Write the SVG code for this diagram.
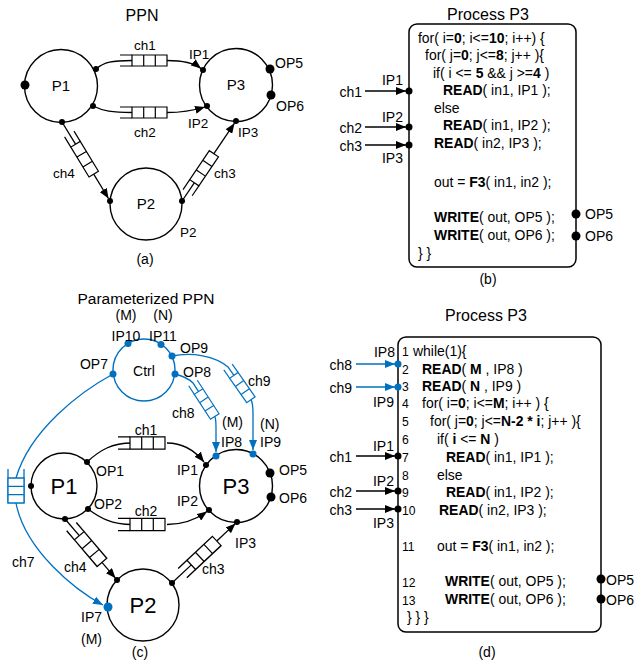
<svg xmlns="http://www.w3.org/2000/svg" width="644" height="666" viewBox="0 0 644 666">
<style>
text{font-family:"Liberation Sans",Arial,Helvetica,sans-serif;fill:#000}
.ttl{font-size:16px}
.lb{font-size:13.5px}
.lc{font-size:14px}
.code{font-size:15.5px}
.num{font-size:13.5px}
.big{font-size:22px}
.mid{text-anchor:middle}
.end{text-anchor:end}
.b{font-weight:bold}
.nd{fill:#fff;stroke:#000;stroke-width:1.4}
.ndb{fill:#fff;stroke:#0070c0;stroke-width:1.4}
.k{fill:none;stroke:#000;stroke-width:1.3}
.kb{fill:none;stroke:#0070c0;stroke-width:1.3}
.dot{fill:#000}
.dotb{fill:#0070c0}
.box{fill:#fff;stroke:#000;stroke-width:1.5}
</style>
<defs>
<marker id="ak" viewBox="0 0 10 8" refX="10" refY="4" markerWidth="10" markerHeight="8" markerUnits="userSpaceOnUse" orient="auto"><path d="M0,0L10,4L0,8z" fill="#000"/></marker>
<marker id="ab" viewBox="0 0 10 8" refX="10" refY="4" markerWidth="10" markerHeight="8" markerUnits="userSpaceOnUse" orient="auto"><path d="M0,0L10,4L0,8z" fill="#0070c0"/></marker>
<g id="bk"><path d="M0,-5.5H12M0,5.5H12" fill="none" stroke="#000" stroke-width="1.2"/><path d="M12,-5.5H47V5.5H12ZM23.7,-5.5V5.5M35.3,-5.5V5.5" fill="#fff" stroke="#000" stroke-width="1.2"/></g>
<g id="bb"><path d="M0,-6H12M0,6H12" fill="none" stroke="#0070c0" stroke-width="1.4"/><path d="M12,-6H47V6H12ZM23.7,-6V6M35.3,-6V6" fill="#fff" stroke="#0070c0" stroke-width="1.4"/></g>
</defs>

<!-- ============ (a) PPN ============ -->
<text class="ttl mid" x="142" y="21">PPN</text>
<g id="a-connectors">
  <path class="k" d="M96,69 C104,62 112,60.5 132,60.5"/>
  <path class="k" d="M167,60.5 C184,60.5 194,63 201,68.5" marker-end="url(#ak)"/>
  <use href="#bk" transform="translate(120,60.5)"/>
  <text class="lb mid" x="145" y="50">ch1</text>
  <path class="k" d="M93,106 C103,111 112,112.5 132,112.5"/>
  <path class="k" d="M167,112.5 C184,112.5 195,110 205,107" marker-end="url(#ak)"/>
  <use href="#bk" transform="translate(120,112.5)"/>
  <text class="lb mid" x="145" y="137">ch2</text>
  <path class="k" d="M62,122 L75.5,144.2"/>
  <path class="k" d="M93.7,174.2 L108.5,198.5" marker-end="url(#ak)"/>
  <use href="#bk" transform="translate(69.3,134) rotate(58.7)"/>
  <text class="lb" x="53" y="178">ch4</text>
  <path class="k" d="M182,201 L194.3,182.8"/>
  <path class="k" d="M213.9,153.7 L234.5,123.2" marker-end="url(#ak)"/>
  <use href="#bk" transform="translate(187.6,192.7) rotate(-56)"/>
  <text class="lb" x="214" y="178">ch3</text>
</g>
<g id="a-P1">
  <circle class="nd" cx="61" cy="86" r="36.5"/>
  <text class="ttl mid" x="61" y="91" style="font-size:15px">P1</text>
  <circle class="dot" cx="25" cy="85" r="4.5"/>
  <circle class="dot" cx="96" cy="69" r="3"/>
  <circle class="dot" cx="93" cy="106" r="3"/>
  <circle class="dot" cx="62" cy="122" r="3"/>
</g>
<g id="a-P3">
  <circle class="nd" cx="236" cy="85" r="36.5"/>
  <text class="ttl mid" x="236" y="90" style="font-size:15px">P3</text>
  <circle class="dot" cx="203" cy="70" r="3"/>
  <circle class="dot" cx="207" cy="106" r="3"/>
  <circle class="dot" cx="236" cy="121" r="3"/>
  <circle class="dot" cx="270" cy="69" r="4.5"/>
  <circle class="dot" cx="271" cy="95" r="4.5"/>
  <text class="lb" x="189" y="59">IP1</text>
  <text class="lb" x="188" y="128">IP2</text>
  <text class="lb" x="238" y="137">IP3</text>
  <text class="lc" x="275" y="68">OP5</text>
  <text class="lc" x="276" y="111">OP6</text>
</g>
<g id="a-P2">
  <circle class="nd" cx="146" cy="204" r="36"/>
  <text class="ttl mid" x="146" y="209" style="font-size:15px">P2</text>
  <circle class="dot" cx="110" cy="201" r="3"/>
  <circle class="dot" cx="182" cy="201" r="3"/>
  <text class="lb" x="180" y="237">P2</text>
</g>
<text class="lc mid" x="145" y="264">(a)</text>

<!-- ============ (b) Process P3 ============ -->
<text class="ttl mid" x="488" y="20">Process P3</text>
<g id="b-P3">
  <rect class="box" x="409" y="24" width="167" height="243" rx="8"/>
  <g transform="translate(409,0) scale(0.9,1) translate(-409,0)">
  <text class="code" x="419" y="43">for( i=<tspan class="b">0</tspan>; i&lt;=<tspan class="b">10</tspan>; i++) {</text>
  <text class="code" x="426.8" y="60.5">for( j=<tspan class="b">0</tspan>; j&lt;=<tspan class="b">8</tspan>; j++ ){</text>
  <text class="code" x="435.7" y="78">if( i &lt;= <tspan class="b">5</tspan> &amp;&amp; j &gt;=<tspan class="b">4</tspan> )</text>
  <text class="code" x="446.8" y="95.5"><tspan class="b">READ</tspan>( in1, IP1 );</text>
  <text class="code" x="436.8" y="113">else</text>
  <text class="code" x="446.8" y="130.5"><tspan class="b">READ</tspan>( in1, IP2 );</text>
  <text class="code" x="436.8" y="148"><tspan class="b">READ</tspan>( in2, IP3 );</text>
  <text class="code" x="436.8" y="187">out = <tspan class="b">F3</tspan>( in1, in2 );</text>
  <text class="code" x="436.8" y="222"><tspan class="b">WRITE</tspan>( out, OP5 );</text>
  <text class="code" x="436.8" y="240"><tspan class="b">WRITE</tspan>( out, OP6 );</text>
  <text class="code" x="419" y="258">} }</text>
  </g>
  <circle class="dot" cx="409" cy="91" r="3.5"/>
  <circle class="dot" cx="409" cy="127" r="3.5"/>
  <circle class="dot" cx="409" cy="145" r="3.5"/>
  <circle class="dot" cx="576" cy="214" r="4.5"/>
  <circle class="dot" cx="576" cy="236" r="4.5"/>
  <text class="lc end" x="403" y="85">IP1</text>
  <text class="lc end" x="403" y="122">IP2</text>
  <text class="lc end" x="403" y="163">IP3</text>
  <text class="lc" x="585" y="219">OP5</text>
  <text class="lc" x="585" y="241">OP6</text>
</g>
<g id="b-connectors">
  <path class="k" d="M365,91 H406" marker-end="url(#ak)"/>
  <path class="k" d="M365,127 H406" marker-end="url(#ak)"/>
  <path class="k" d="M365,145 H406" marker-end="url(#ak)"/>
  <text class="lc end" x="362" y="97">ch1</text>
  <text class="lc end" x="362" y="133">ch2</text>
  <text class="lc end" x="362" y="151">ch3</text>
</g>
<text class="lc mid" x="488" y="284">(b)</text>

<!-- ============ (c) Parameterized PPN ============ -->
<text class="ttl mid" x="146" y="304" style="font-size:15.5px">Parameterized PPN</text>
<g id="c-connectors">
  <!-- ch7 -->
  <path class="kb" d="M113,374 C80,392 30,430 16,478"/>
  <path d="M8,469V503M24,469V503" fill="none" stroke="#0070c0" stroke-width="1.3"/>
  <path d="M8,478H24V503H8ZM8,486.3H24M8,494.6H24" fill="#fff" stroke="#0070c0" stroke-width="1.3"/>
  <path class="kb" d="M16,503 C25,550 75,590 103,605" marker-end="url(#ab)"/>
  <text class="lc" x="12" y="567">ch7</text>
  <!-- ch8 -->
  <path class="kb" d="M175,374 Q187,377 193,383 L198.6,391.6"/>
  <use href="#bb" transform="translate(193,383) rotate(57) scale(0.85)"/>
  <path class="kb" d="M214.8,416.5 C216,419 216,422 216,428 L216,452" marker-end="url(#ab)"/>
  <text class="lc" x="172" y="418">ch8</text>
  <!-- ch9 -->
  <path class="kb" d="M172,356 C192,352 215,356 228,367 L233.9,375.4"/>
  <use href="#bb" transform="translate(228,367) rotate(55) scale(0.85)"/>
  <path class="kb" d="M251,399.8 C253,403 253,407 253,414 L253,450" marker-end="url(#ab)"/>
  <text class="lc" x="248" y="386">ch9</text>
  <!-- ch1 -->
  <path class="k" d="M87,462 C100,450 112,443 132,443"/>
  <path class="k" d="M167,443 C185,443 196,452 204,462" marker-end="url(#ak)"/>
  <use href="#bk" transform="translate(118,443) scale(1,1.1)"/>
  <text class="lc mid" x="146" y="435">ch1</text>
  <!-- ch2 -->
  <path class="k" d="M88,509 C100,518 112,524.5 132,524.5"/>
  <path class="k" d="M167,524.5 C185,524.5 198,518 207,511.5" marker-end="url(#ak)"/>
  <use href="#bk" transform="translate(118,524.5) scale(1,1.1)"/>
  <text class="lc mid" x="146" y="516">ch2</text>
  <!-- ch4 -->
  <path class="k" d="M65,519 L79.3,535.7"/>
  <path class="k" d="M101.9,562.4 L115.5,578.2" marker-end="url(#ak)"/>
  <use href="#bk" transform="translate(71.5,526.6) rotate(49.6) scale(1,1.15)"/>
  <text class="lc" x="64" y="572">ch4</text>
  <!-- ch3 -->
  <path class="k" d="M173,582 L191.3,564.9"/>
  <path class="k" d="M216.8,541 L235.5,523.4" marker-end="url(#ak)"/>
  <use href="#bk" transform="translate(182.5,573.1) rotate(-43.2) scale(1,1.15)"/>
  <text class="lc" x="202" y="574">ch3</text>
</g>
<g id="c-Ctrl">
  <circle class="ndb" cx="144" cy="370" r="31"/>
  <text class="lc mid" x="144" y="376">Ctrl</text>
  <circle class="dotb" cx="128" cy="343.5" r="3.5"/>
  <circle class="dotb" cx="161" cy="344.5" r="3.5"/>
  <circle class="dotb" cx="172" cy="356" r="3.5"/>
  <circle class="dotb" cx="175" cy="374" r="3.5"/>
  <circle class="dotb" cx="113" cy="374" r="3.5"/>
  <text class="lc mid" x="126" y="320">(M)</text>
  <text class="lc mid" x="163" y="320">(N)</text>
  <text class="lc mid" x="126" y="341">IP10</text>
  <text class="lc mid" x="163" y="341">IP11</text>
  <text class="lc end" x="108" y="369">OP7</text>
  <text class="lc" x="180" y="353">OP9</text>
  <text class="lc" x="183" y="377">OP8</text>
</g>
<g id="c-P1">
  <circle class="nd" cx="64" cy="486" r="33"/>
  <text class="big mid" x="64" y="494">P1</text>
  <circle class="dot" cx="31" cy="486" r="3"/>
  <circle class="dot" cx="87" cy="462" r="3"/>
  <circle class="dot" cx="88" cy="509" r="3"/>
  <circle class="dot" cx="65" cy="519" r="3"/>
  <text class="lc" x="96" y="476">OP1</text>
  <text class="lc" x="94" y="509">OP2</text>
</g>
<g id="c-P3">
  <circle class="nd" cx="236" cy="486" r="36.5"/>
  <text class="big mid" x="236" y="494">P3</text>
  <circle class="dot" cx="206" cy="465" r="3"/>
  <circle class="dot" cx="209" cy="510" r="3"/>
  <circle class="dot" cx="237" cy="522" r="3"/>
  <circle class="dot" cx="270" cy="473" r="4.5"/>
  <circle class="dot" cx="271" cy="497" r="4.5"/>
  <circle class="dotb" cx="216" cy="456" r="3.5"/>
  <circle class="dotb" cx="253" cy="454" r="3.5"/>
  <text class="lc" x="222" y="427">(M)</text>
  <text class="lc" x="260" y="429">(N)</text>
  <text class="lc" x="221" y="447">IP8</text>
  <text class="lc" x="260" y="447">IP9</text>
  <text class="lc end" x="198" y="475">IP1</text>
  <text class="lc end" x="198" y="506">IP2</text>
  <text class="lc" x="235" y="548">IP3</text>
  <text class="lc" x="279" y="475">OP5</text>
  <text class="lc" x="279" y="503">OP6</text>
</g>
<g id="c-P2">
  <circle class="nd" cx="143" cy="605" r="36"/>
  <text class="big mid" x="143" y="613">P2</text>
  <circle class="dot" cx="117" cy="580" r="3"/>
  <circle class="dot" cx="172" cy="583" r="3"/>
  <circle class="dotb" cx="108" cy="607" r="4.5"/>
  <text class="lc" x="81" y="622">IP7</text>
  <text class="lc" x="81" y="644">(M)</text>
</g>
<text class="lc mid" x="140" y="657">(c)</text>

<!-- ============ (d) Process P3 ============ -->
<text class="ttl mid" x="486" y="321">Process P3</text>
<g id="d-P3">
  <rect class="box" x="398" y="337" width="203" height="295" rx="8"/>
  <g transform="translate(398,0) scale(0.9,1) translate(-398,0)">
  <text class="num" x="402.4" y="356">1</text>
  <text class="num" x="402.4" y="374">2</text>
  <text class="num" x="402.4" y="391">3</text>
  <text class="num" x="402.4" y="408">4</text>
  <text class="num" x="402.4" y="426">5</text>
  <text class="num" x="402.4" y="444">6</text>
  <text class="num" x="402.4" y="462">7</text>
  <text class="num" x="402.4" y="480">8</text>
  <text class="num" x="402.4" y="497">9</text>
  <text class="num" x="402.4" y="515">10</text>
  <text class="num" x="402.4" y="551">11</text>
  <text class="num" x="402.4" y="587">12</text>
  <text class="num" x="402.4" y="605">13</text>
  <text class="code" x="414.7" y="356">while(1){</text>
  <text class="code" x="424.7" y="374"><tspan class="b">READ</tspan>( <tspan class="b">M</tspan> , IP8 )</text>
  <text class="code" x="424.7" y="391"><tspan class="b">READ</tspan>( <tspan class="b">N</tspan> , IP9 )</text>
  <text class="code" x="424.7" y="408">for( i=<tspan class="b">0</tspan>; i&lt;=<tspan class="b">M</tspan>; i++ ) {</text>
  <text class="code" x="433.6" y="426">for( j=<tspan class="b">0</tspan>; j&lt;=<tspan class="b">N-2 * i</tspan>; j++ ){</text>
  <text class="code" x="441.3" y="444">if( <tspan class="b">i</tspan> &lt;= <tspan class="b">N</tspan> )</text>
  <text class="code" x="451.3" y="462"><tspan class="b">READ</tspan>( in1, IP1 );</text>
  <text class="code" x="441.3" y="480">else</text>
  <text class="code" x="451.3" y="497"><tspan class="b">READ</tspan>( in1, IP2 );</text>
  <text class="code" x="443.6" y="515"><tspan class="b">READ</tspan>( in2, IP3 );</text>
  <text class="code" x="441.3" y="551">out = <tspan class="b">F3</tspan>( in1, in2 );</text>
  <text class="code" x="450.2" y="586"><tspan class="b">WRITE</tspan>( out, OP5 );</text>
  <text class="code" x="450.2" y="604"><tspan class="b">WRITE</tspan>( out, OP6 );</text>
  <text class="code" x="408" y="622">} } }</text>
  </g>
  <circle class="dotb" cx="398" cy="364" r="3.5"/>
  <circle class="dotb" cx="398" cy="387" r="3.5"/>
  <circle class="dot" cx="398" cy="456" r="3.5"/>
  <circle class="dot" cx="398" cy="491" r="3.5"/>
  <circle class="dot" cx="398" cy="509" r="3.5"/>
  <circle class="dot" cx="601" cy="579" r="4.5"/>
  <circle class="dot" cx="601" cy="599" r="4.5"/>
  <text class="lc end" x="395" y="357">IP8</text>
  <text class="lc end" x="394" y="407">IP9</text>
  <text class="lc end" x="394" y="451">IP1</text>
  <text class="lc end" x="394" y="486">IP2</text>
  <text class="lc end" x="394" y="528">IP3</text>
  <text class="lc" x="606" y="585">OP5</text>
  <text class="lc" x="606" y="605">OP6</text>
</g>
<g id="d-connectors">
  <path class="kb" d="M356,364 H395" marker-end="url(#ab)"/>
  <path class="kb" d="M356,387 H395" marker-end="url(#ab)"/>
  <path class="k" d="M356,456 H395" marker-end="url(#ak)"/>
  <path class="k" d="M356,491 H395" marker-end="url(#ak)"/>
  <path class="k" d="M356,509 H395" marker-end="url(#ak)"/>
  <text class="lc end" x="352" y="370">ch8</text>
  <text class="lc end" x="352" y="393">ch9</text>
  <text class="lc end" x="352" y="462">ch1</text>
  <text class="lc end" x="352" y="497">ch2</text>
  <text class="lc end" x="352" y="515">ch3</text>
</g>
<text class="lc mid" x="487" y="657">(d)</text>
</svg>
